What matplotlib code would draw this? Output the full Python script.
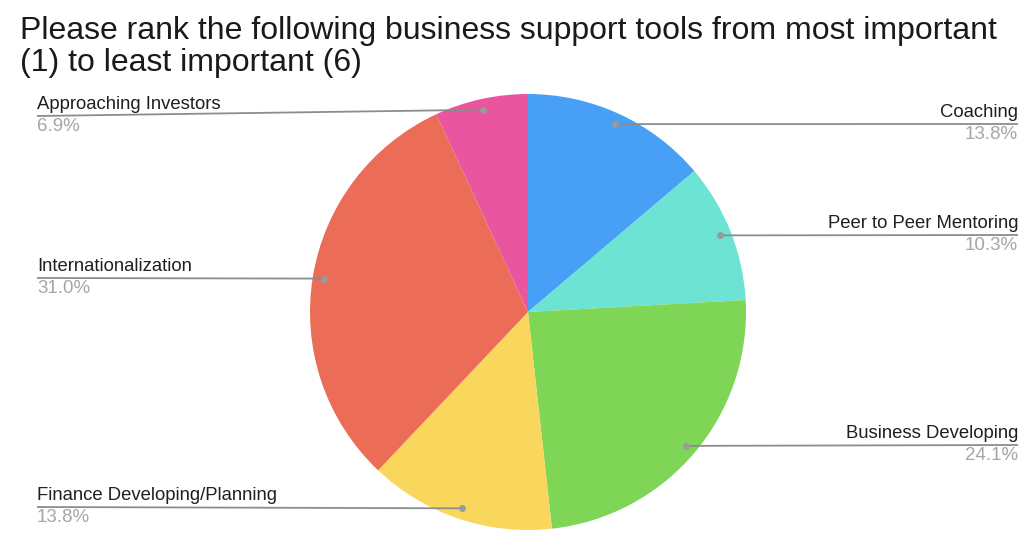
import numpy as np
import matplotlib

matplotlib.use("Agg")
import matplotlib.pyplot as plt

# survey results, clockwise from 12 o'clock
categories = [
    "Coaching",
    "Peer to Peer Mentoring",
    "Business Developing",
    "Finance Developing/Planning",
    "Internationalization",
    "Approaching Investors",
]
shares = [13.8, 10.3, 24.1, 13.8, 31.0, 6.9]
colors = ["#47a0f6", "#6ce3d3", "#7fd656", "#f9d75c", "#ec6d57", "#e9559f"]

title = ("Please rank the following business support tools from most important\n"
         "(1) to least important (6)")

W, H = 1036, 555
# label layout in pixel units (y measured from top): side, leader-line y
label_side = ["right", "right", "right", "left", "left", "left"]
label_line_y = [124, 235, 445, 507, 278, 116]
LEFT_X, RIGHT_X = 37, 1018

plt.rcParams["font.family"] = ["Liberation Sans", "DejaVu Sans"]

fig = plt.figure(figsize=(W / 100, H / 100), dpi=100)
ax = fig.add_axes([0, 0, 1, 1])

center = (528, H - 312)
radius = 218
wedges, _ = ax.pie(shares, colors=colors, startangle=90, counterclock=False,
                   center=center, radius=radius, frame=True,
                   wedgeprops=dict(linewidth=0, antialiased=True))
ax.set_xlim(0, W)
ax.set_ylim(0, H)
ax.set_aspect("equal")
ax.axis("off")

line_color = "#8c8c8c"
for w, name, val, side, ly in zip(wedges, categories, shares, label_side, label_line_y):
    mid = np.deg2rad((w.theta1 + w.theta2) / 2)
    dx = center[0] + 0.95 * radius * np.cos(mid)
    dy = center[1] + 0.95 * radius * np.sin(mid)
    y = H - ly
    x_end = RIGHT_X if side == "right" else LEFT_X
    ha = "right" if side == "right" else "left"
    ax.plot([dx, x_end], [dy, y], color=line_color, lw=1.3, solid_capstyle="butt", zorder=3)
    ax.plot(dx, dy, "o", ms=5, color="#9a9a9a", mec="none", zorder=4)
    ax.text(x_end, y + 3, name, ha=ha, va="bottom", fontsize=13.3, color="#1f1f1f")
    ax.text(x_end, y - 2, f"{val:.1f}%", ha=ha, va="top", fontsize=13.5, color="#a6a6a6")

# fit the first title line to its span
t = ax.text(20, H - 16, title.split("\n")[0], ha="left", va="top", fontsize=20, color="#1a1a1a")
fig.canvas.draw()
width = t.get_window_extent().width
t.remove()
fs = 20 * 973 / width
ax.text(20, H - 16, title, ha="left", va="top", fontsize=fs, color="#1a1a1a",
        linespacing=1.07)

fig.savefig("out.png", dpi=100)
